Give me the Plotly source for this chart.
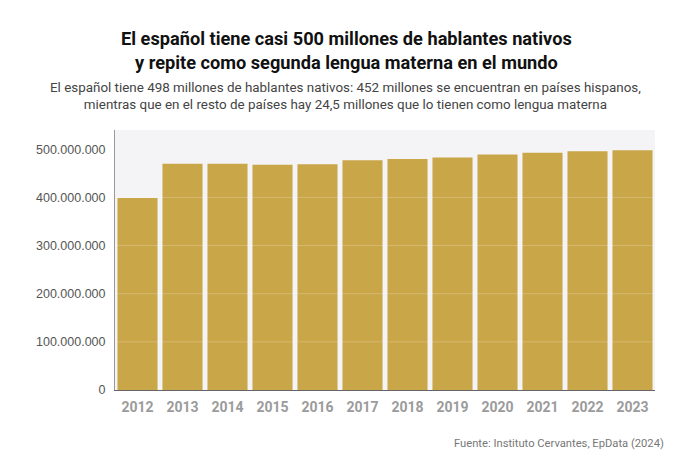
import plotly.graph_objects as go

years = ["2012", "2013", "2014", "2015", "2016", "2017", "2018", "2019", "2020", "2021", "2022", "2023"]
hablantes = [399000000, 470000000, 470000000, 468000000, 469000000, 477000000,
             480000000, 483000000, 489000000, 493000000, 496000000, 498000000]
y_ticks = [0, 100000000, 200000000, 300000000, 400000000, 500000000]

title_text = ("<b>El español tiene casi 500 millones de hablantes nativos<br>"
              "y repite como segunda lengua materna en el mundo</b>")
subtitle_text = ("El español tiene 498 millones de hablantes nativos: 452 millones se encuentran en países hispanos,<br>"
                 "mientras que en el resto de países hay 24,5 millones que lo tienen como lengua materna")
source_text = "Fuente: Instituto Cervantes, EpData (2024)"

bar_color = "#c9a648"

L, R, T, B = 115, 35, 130, 79
W, H = 690, 469
PW, PH = W - L - R, H - T - B

def px(x):
    return (x - L) / PW

def py(y):
    return (H - B - y) / PH

fig = go.Figure()
fig.add_trace(go.Bar(
    x=years, y=hablantes,
    marker=dict(color=bar_color, line=dict(width=0)),
    hovertemplate="%{x}: %{y:,d}<extra></extra>",
))

# faint gridlines drawn over the bars
for v in y_ticks[1:]:
    fig.add_shape(type="line", xref="paper", x0=0, x1=1, yref="y", y0=v, y1=v,
                  line=dict(color="rgba(255,255,255,0.22)", width=1), layer="above")

fig.update_layout(
    width=W, height=H,
    margin=dict(l=L, r=R, t=T, b=B),
    paper_bgcolor="white",
    plot_bgcolor="#f4f3f6",
    separators=",.",
    bargap=0.11,
    showlegend=False,
    font=dict(family="Roboto", color="#555555"),
    xaxis=dict(
        type="category",
        tickfont=dict(family="Roboto", size=14, color="#9b9b9b", weight="bold"),
        showline=True, linecolor="#666666", linewidth=1,
        ticks="", showgrid=False, ticklabelstandoff=4,
    ),
    yaxis=dict(
        range=[0, 540000000],
        tickvals=y_ticks,
        tickformat=",d",
        tickfont=dict(family="Liberation Sans", size=12.5, color="#555555"),
        showline=True, linecolor="#999999", linewidth=1,
        showgrid=False, zeroline=False,
        ticks="", ticklabelstandoff=6,
    ),
)

fig.add_annotation(text=title_text, xref="paper", yref="paper",
                   x=px(346), xanchor="center",
                   y=py(26), yanchor="top",
                   showarrow=False, align="center",
                   font=dict(family="Roboto", size=18.2, color="#111111"))
fig.add_annotation(text=subtitle_text, xref="paper", yref="paper",
                   x=px(345), xanchor="center",
                   y=py(78), yanchor="top",
                   showarrow=False, align="center",
                   font=dict(family="Roboto", size=13.4, color="#444444"))
fig.add_annotation(text=source_text, xref="paper", yref="paper",
                   x=px(666), xanchor="right",
                   y=py(443), yanchor="middle",
                   showarrow=False, align="right",
                   font=dict(family="Roboto", size=11.2, color="#777777"))

fig.write_html("out.html", config={"displayModeBar": False},
               post_script="document.body.style.margin='0';")
